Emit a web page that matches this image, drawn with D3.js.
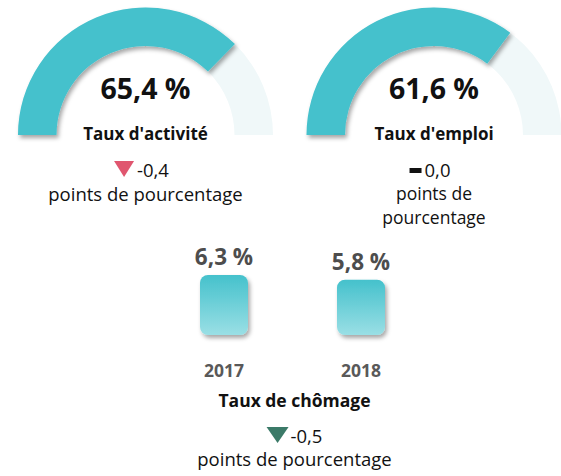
<!DOCTYPE html>
<html>
<head>
<meta charset="utf-8">
<script src="https://cdn.jsdelivr.net/npm/d3@7"></script>
<style>
  body { margin: 0; background: #fff; }
  svg text { font-family: "Open Sans", "Noto Sans", sans-serif; }
</style>
</head>
<body>
<svg width="561" height="476"></svg>
<script>
// gauges
const gaugeLabels = ["Taux d'activité", "Taux d'emploi"];
const gaugeValues = [65.4, 61.6];
const gaugeChanges = [-0.4, 0.0];
const gaugeMax = 87.5;

// unemployment bars
const years = ["2017", "2018"];
const chomage = [6.3, 5.8];
const chomageChange = -0.5;

const fmt = v => v.toFixed(1).replace(".", ",");

const svg = d3.select("svg");
const defs = svg.append("defs");

const shadow = defs.append("filter").attr("id", "shadow")
  .attr("x", "-20%").attr("y", "-20%").attr("width", "140%").attr("height", "140%");
shadow.append("feDropShadow").attr("dx", 2).attr("dy", 3).attr("stdDeviation", 2)
  .attr("flood-color", "#000").attr("flood-opacity", 0.35);

const grad = defs.append("linearGradient").attr("id", "barGrad")
  .attr("x1", 0).attr("y1", 0).attr("x2", 0).attr("y2", 1);
grad.append("stop").attr("offset", "0%").attr("stop-color", "#45c1cc");
grad.append("stop").attr("offset", "100%").attr("stop-color", "#9adfe5");

// gauges
const angle = d3.scaleLinear([0, gaugeMax], [-Math.PI / 2, Math.PI / 2]);
const gx = d3.scalePoint(gaugeLabels, [145.5, 434]);
const arc = d3.arc().innerRadius(89).outerRadius(127.5);
const baseY = 135;

const g = svg.selectAll("g.gauge")
  .data(gaugeLabels.map((l, i) => ({label: l, value: gaugeValues[i], change: gaugeChanges[i]})))
  .enter().append("g")
  .attr("class", "gauge")
  .attr("transform", d => `translate(${gx(d.label)},${baseY})`);

g.append("path")
  .attr("fill", "#f0f8f9")
  .attr("d", arc({startAngle: -Math.PI / 2, endAngle: Math.PI / 2}));

g.append("path")
  .attr("fill", "#45c1cc")
  .attr("filter", "url(#shadow)")
  .attr("d", d => arc({startAngle: -Math.PI / 2, endAngle: angle(d.value)}));

g.append("text")
  .attr("text-anchor", "middle").attr("y", -36)
  .attr("font-size", 28.5).attr("font-weight", "bold").attr("fill", "#111")
  .text(d => fmt(d.value) + " %");

g.append("text")
  .attr("text-anchor", "middle").attr("y", 5)
  .attr("font-size", 17).attr("font-weight", "bold").attr("fill", "#111")
  .text(d => d.label);

// change line
g.each(function(d, i) {
  const s = d3.select(this);
  const t = s.append("text")
    .attr("y", 42).attr("font-size", 18.5).attr("fill", "#111")
    .text(fmt(d.change));
  const tw = t.node().getComputedTextLength();
  const markW = d.change < 0 ? 20 : 12;
  const gap = 3;
  const total = markW + gap + tw;
  const x0 = -total / 2 - 4;
  t.attr("x", x0 + markW + gap);
  if (d.change < 0) {
    s.append("path").attr("fill", "#e0566f")
      .attr("d", `M${x0},26 L${x0 + markW},26 L${x0 + markW / 2},42 Z`);
  } else {
    s.append("rect").attr("fill", "#111")
      .attr("x", x0).attr("y", 33).attr("width", markW).attr("height", 5);
  }
  // second gauge wraps its unit onto two lines
  const lines = i === 0 ? ["points de pourcentage"] : ["points de", "pourcentage"];
  const fs = i === 0 ? 18.5 : 17.5;
  lines.forEach((ln, k) => {
    s.append("text").attr("text-anchor", "middle")
      .attr("y", 66 + k * 24 - (i ? 1 : 0)).attr("font-size", fs).attr("fill", "#111")
      .text(ln);
  });
});

// bars
const bx = d3.scalePoint(years, [224, 361]);
const by = d3.scaleLinear([0, 6.3], [335, 275]);
const barW = 48;

const bars = svg.selectAll("g.bar")
  .data(years.map((y, i) => ({year: y, value: chomage[i]})))
  .enter().append("g").attr("class", "bar");

bars.append("rect")
  .attr("x", d => bx(d.year) - barW / 2)
  .attr("y", d => by(d.value))
  .attr("width", barW)
  .attr("height", d => by(0) - by(d.value))
  .attr("rx", 8)
  .attr("fill", "url(#barGrad)")
  .attr("filter", "url(#shadow)");

bars.append("text")
  .attr("text-anchor", "middle")
  .attr("x", d => bx(d.year))
  .attr("y", d => by(d.value) - 10)
  .attr("font-size", 22.5).attr("font-weight", "bold").attr("fill", "#4d4d4d")
  .text(d => fmt(d.value) + " %");

bars.append("text")
  .attr("text-anchor", "middle")
  .attr("x", d => bx(d.year))
  .attr("y", 377)
  .attr("font-size", 17.5).attr("font-weight", "bold").attr("fill", "#595959")
  .text(d => d.year);

const cx = (bx(years[0]) + bx(years[1])) / 2 + 2;
svg.append("text")
  .attr("text-anchor", "middle").attr("x", cx).attr("y", 407)
  .attr("font-size", 17.5).attr("font-weight", "bold").attr("fill", "#111")
  .text("Taux de chômage");

const ct = svg.append("text")
  .attr("y", 443).attr("font-size", 18.5).attr("fill", "#111")
  .text(fmt(chomageChange));
const ctw = ct.node().getComputedTextLength();
const x0 = cx - (22 + 2 + ctw) / 2;
ct.attr("x", x0 + 24);
svg.append("path").attr("fill", "#3b7a68")
  .attr("d", `M${x0},427 L${x0 + 22},427 L${x0 + 11},443 Z`);

svg.append("text")
  .attr("text-anchor", "middle").attr("x", cx).attr("y", 466)
  .attr("font-size", 18.5).attr("fill", "#111")
  .text("points de pourcentage");
</script>
</body>
</html>
